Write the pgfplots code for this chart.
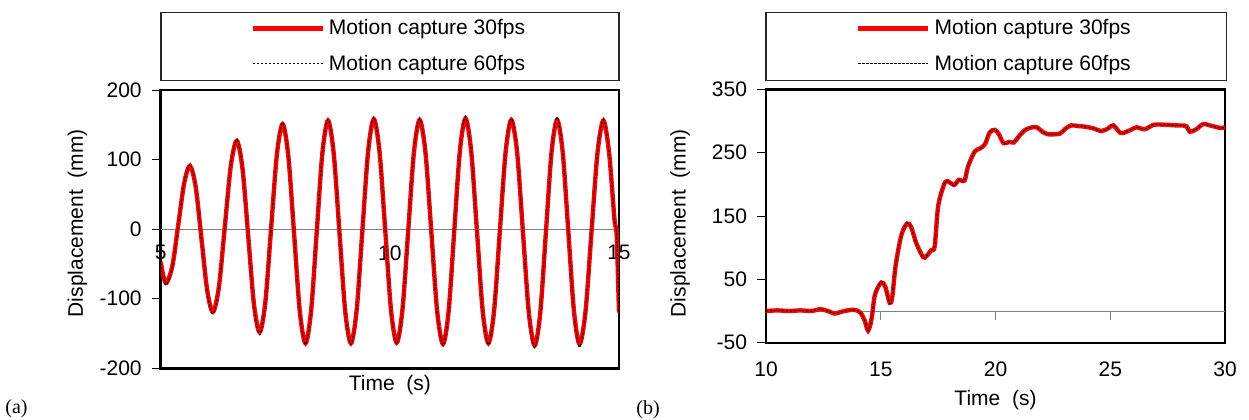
\documentclass[border=0pt]{standalone}
\usepackage{fontspec}
\setmainfont{Liberation Sans}
\newfontfamily\tnr{Liberation Serif}
\usepackage{pgfplots}
\usepackage{pgfplotstable}
\pgfplotsset{compat=1.18}

% (a) 30 fps
\pgfplotstableread{
t v
5.00 -47
5.06 -68
5.13 -77
5.2575 -52
5.385 7
5.5125 66
5.64 91
5.765 60
5.89 -14
6.015 -88
6.14 -119
6.27 -83
6.40 4
6.53 91
6.66 127
6.785 87
6.91 -10
7.035 -108
7.16 -148
7.285 -104
7.41 2
7.535 107
7.66 151
7.785 105
7.91 -6
8.035 -118
8.16 -164
8.2825 -117
8.405 -4
8.5275 109
8.65 156
8.775 109
8.90 -4
9.025 -117
9.15 -164
9.275 -117
9.40 -3
9.525 111
9.65 158
9.775 111
9.90 -2
10.025 -116
10.15 -163
10.275 -116
10.40 -3
10.525 110
10.65 157
10.7775 110
10.905 -4
11.0325 -118
11.16 -165
11.2825 -118
11.405 -3
11.5275 112
11.65 159
11.775 112
11.90 -2
12.025 -117
12.15 -164
12.275 -117
12.40 -3
12.525 110
12.65 157
12.7775 110
12.905 -5
13.0325 -120
13.16 -167
13.2825 -120
13.405 -5
13.5275 110
13.65 157
13.7725 110
13.895 -4
14.0175 -118
14.14 -165
14.27 -118
14.40 -4
14.53 109
14.66 156
14.785 109
14.90 15
14.95 -10
15.00 -120
}\tabAthirty

% (a) 60 fps
\pgfplotstableread{
t v
5.00 -49
5.06 -70
5.13 -80
5.2575 -53
5.385 6
5.5125 67
5.64 93
5.765 61
5.89 -15
6.015 -90
6.14 -122
6.27 -84
6.40 4
6.53 92
6.66 129
6.785 88
6.91 -11
7.035 -110
7.16 -152
7.285 -105
7.41 2
7.535 108
7.66 153
7.785 106
7.91 -6
8.035 -119
8.16 -166
8.2825 -118
8.405 -4
8.5275 110
8.65 158
8.775 110
8.90 -4
9.025 -118
9.15 -166
9.275 -118
9.40 -3
9.525 112
9.65 161
9.775 112
9.90 -2
10.025 -117
10.15 -165
10.275 -117
10.40 -3
10.525 111
10.65 159
10.7775 111
10.905 -4
11.0325 -119
11.16 -167
11.2825 -119
11.405 -3
11.5275 113
11.65 162
11.775 113
11.90 -2
12.025 -118
12.15 -166
12.275 -118
12.40 -3
12.525 111
12.65 159
12.7775 111
12.905 -5
13.0325 -122
13.16 -171
13.2825 -121
13.405 -5
13.5275 111
13.65 161
13.7725 111
13.895 -4
14.0175 -120
14.14 -170
14.27 -119
14.40 -4
14.53 110
14.66 158
14.785 110
14.90 15
14.95 -10
15.00 -122
}\tabAsixty

% (b) 30 fps
\pgfplotstableread{
t v
10.0 0
10.5 1
11.0 0
11.5 1
12.0 0
12.35 3
12.7 0
13.0 -4
13.3 -1
13.8 2
14.1 -2
14.3 -15
14.45 -31
14.6 -12
14.75 26
15.02 45
15.2 38
15.39 13
15.5 22
15.65 72
15.9 120
16.15 138
16.33 132
16.55 107
16.85 85
17.0 87
17.2 96
17.35 102
17.5 165
17.75 199
17.9 205
18.2 199
18.4 207
18.65 206
18.8 228
19.1 252
19.35 257
19.55 264
19.75 282
19.97 286
20.15 279
20.35 265
20.6 267
20.8 266
21.0 275
21.3 286
21.6 290
21.8 290
22.05 283
22.3 279
22.8 280
23.05 288
23.3 293
23.6 292
23.9 291
24.3 288
24.6 284
24.9 288
25.13 293
25.45 281
25.7 283
25.9 286
26.15 290
26.5 287
26.9 294
27.4 294
27.9 293
28.3 292
28.47 283
28.75 287
29.05 295
29.45 292
29.8 289
30.0 290
}\tabBthirty

% (b) 60 fps
\pgfplotstableread{
t v
10.0 0
10.5 1
11.0 0
11.5 1
12.0 0
12.35 3
12.7 0
13.0 -4
13.3 -1
13.8 2
14.1 -2
14.3 -16
14.45 -32
14.6 -12
14.75 27
15.02 46
15.2 38
15.39 12
15.5 22
15.65 73
15.9 121
16.15 139
16.33 132
16.55 106
16.85 84
17.0 87
17.2 96
17.35 103
17.5 166
17.75 200
17.9 205
18.2 198
18.4 207
18.65 206
18.8 229
19.1 252
19.35 257
19.55 265
19.75 283
19.97 287
20.15 279
20.35 264
20.6 267
20.8 266
21.0 275
21.3 287
21.6 290
21.8 290
22.05 283
22.3 279
22.8 280
23.05 288
23.3 293
23.6 292
23.9 291
24.3 288
24.6 284
24.9 288
25.13 294
25.45 281
25.7 283
25.9 286
26.15 290
26.5 287
26.9 294
27.4 294
27.9 293
28.3 292
28.47 283
28.75 287
29.05 295
29.45 292
29.8 289
30.0 290
}\tabBsixty

\begin{document}
\begin{tikzpicture}[font=\fontsize{10.5}{12.6}\selectfont]
\pgfplotsset{
  common/.style={
    scale only axis,
    anchor=south west,
    /pgf/number format/assume math mode=true,
    tick align=outside,
    tick pos=left,
    major tick length=4.5pt,
    axis line style={line width=1.2pt},
    every tick/.style={black, line width=0.5pt},
    legend cell align=left,
    legend style={draw=none, fill=none, at={(axis description cs:0.5,1)}, anchor=center,
      font=\fontsize{10.5}{12.6}\selectfont, row sep=4.5pt},
    legend image code/.code={\draw[##1] (0pt,0pt) -- (35pt,0pt);},
    ticklabel style={font=\fontsize{10.5}{12.6}\selectfont},
    yticklabel style={xshift=-1.5pt},
    label style={font=\fontsize{10.5}{12.6}\selectfont},
  },
  red30/.style={draw=red, line width=2.2pt, smooth, tension=0.5},
  blk60/.style={draw=black, line width=0.5pt, dash pattern=on 1.2pt off 0.8pt, smooth, tension=0.5},
}

\begin{axis}[common,
  at={(80.35pt,25.35pt)}, width=229.15pt, height=139.15pt,
  xmin=5, xmax=15, ymin=-200, ymax=200,
  xtick={5,10,15}, ytick={-200,-100,...,200},
  xtick style={draw=none},
  xticklabel style={yshift=69.5pt},
  xlabel={Time\ \ (s)}, ylabel={Displacement\ \ (mm)},
  xlabel style={at={(axis description cs:0.5,0)}, anchor=center, yshift=-8.35pt},
  ylabel style={at={(axis description cs:-0.1815,0.521)}, anchor=center},
  legend style={yshift=21.85pt},
]
\addplot[gray, line width=0.5pt, forget plot] coordinates {(5,0) (15,0)};
\addplot[red30] table[x=t, y=v] {\tabAthirty};
\addlegendentry{Motion capture 30fps}
\addplot[blk60] table[x=t, y=v] {\tabAsixty};
\addlegendentry{Motion capture 60fps}
\end{axis}
\draw[line width=0.6pt, black!85] (80.5pt,169.15pt) rectangle (309.5pt,203.15pt);

\begin{axis}[common,
  at={(383pt,38.15pt)}, width=229.5pt, height=126.7pt,
  xmin=10, xmax=30, ymin=-50, ymax=350,
  xtick={10,15,...,30}, ytick={-50,50,...,350},
  xtick style={yshift=15.84pt, gray},
  xticklabel style={yshift=-1.5pt},
  xlabel={Time\ \ (s)}, ylabel={Displacement\ \ (mm)},
  xlabel style={at={(axis description cs:0.5,0)}, anchor=center, yshift=-28.65pt},
  ylabel style={at={(axis description cs:-0.1867,0.471)}, anchor=center},
  legend style={yshift=21.5pt},
]
\addplot[gray, line width=0.5pt, forget plot] coordinates {(10,0) (30,0)};
\addplot[red30] table[x=t, y=v] {\tabBthirty};
\addlegendentry{Motion capture 30fps}
\addplot[blk60] table[x=t, y=v] {\tabBsixty};
\addlegendentry{Motion capture 60fps}
\end{axis}
\draw[line width=0.6pt, black!85] (383pt,169.15pt) rectangle (613.3pt,203.15pt);

\node[anchor=base west, inner sep=0pt, font=\tnr\fontsize{10}{12}\selectfont] at (2.5pt,3pt) {(a)};
\node[anchor=base west, inner sep=0pt, font=\tnr\fontsize{10}{12}\selectfont] at (318pt,2.5pt) {(b)};

\pgfresetboundingbox
\useasboundingbox (0pt,0pt) rectangle (624.5pt,209.5pt);
\end{tikzpicture}
\end{document}
